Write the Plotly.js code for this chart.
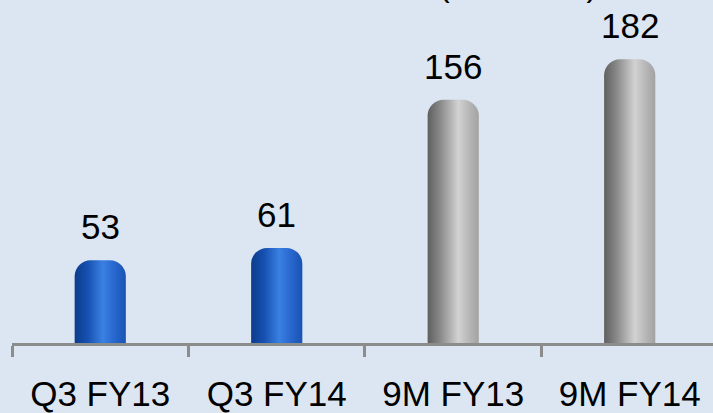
<!DOCTYPE html>
<html><head><meta charset="utf-8">
<script src="https://cdn.plot.ly/plotly-3.0.1.min.js"></script>
<style>html,body{margin:0;padding:0;background:#dce6f2;overflow:hidden}</style>
</head><body><div id="chart" style="width:713px;height:413px"></div>
<script>
const categories = ['Q3 FY13', 'Q3 FY14', '9M FY13', '9M FY14'];
const values = [53, 61, 156, 182];
const barGroups = ['quarter', 'quarter', 'nine', 'nine'];
const titleText = '(Rs. Crore)';

const groupColor = {quarter: '#1f5fc4', nine: '#a8a8a8'};
const groupGrad = {quarter: 'gBlue', nine: 'gGray'};
const FONT = 'Liberation Sans, Arial, sans-serif';

const trace = {
  type: 'bar',
  x: categories,
  y: values,
  width: 0.29,
  marker: {color: barGroups.map(g => groupColor[g]), cornerradius: 16, line: {width: 0}},
  hoverinfo: 'skip'
};

const annotations = values.map((v, i) => ({
  x: categories[i], y: v, xref: 'x', yref: 'y', text: String(v),
  showarrow: false, yanchor: 'bottom', yshift: 12,
  font: {family: FONT, size: 35, color: '#000'}
}));
annotations.push({
  xref: 'paper', yref: 'paper', x: 0.722, y: 1, xanchor: 'center', yanchor: 'bottom', yshift: -5,
  text: titleText, showarrow: false,
  font: {family: FONT, size: 32, color: '#000'}
});

const layout = {
  width: 713, height: 413,
  paper_bgcolor: '#dce6f2', plot_bgcolor: '#dce6f2',
  margin: {l: 12, r: 0, t: 0, b: 70, pad: 0},
  showlegend: false,
  xaxis: {
    type: 'category', range: [-0.5, 3.472], tickson: 'boundaries',
    ticks: 'outside', ticklen: 11, tickwidth: 3, tickcolor: '#8c8c8c',
    showline: true, linecolor: '#8c8c8c', linewidth: 3,
    showgrid: false, zeroline: false, ticklabelstandoff: 18,
    tickfont: {family: FONT, size: 35, color: '#000'}, fixedrange: true
  },
  yaxis: {range: [0, 220], visible: false, fixedrange: true},
  annotations: annotations
};

Plotly.newPlot('chart', [trace], layout, {staticPlot: true}).then(gd => {
  const svg = gd.querySelector('svg.main-svg');
  const ns = 'http://www.w3.org/2000/svg';
  let defs = svg.querySelector('defs');
  if (!defs) { defs = document.createElementNS(ns, 'defs'); svg.insertBefore(defs, svg.firstChild); }
  const mk = (id, stops) => {
    const g = document.createElementNS(ns, 'linearGradient');
    g.setAttribute('id', id); g.setAttribute('x1', '0'); g.setAttribute('x2', '1');
    g.setAttribute('y1', '0'); g.setAttribute('y2', '0');
    stops.forEach(([o, c]) => {
      const s = document.createElementNS(ns, 'stop');
      s.setAttribute('offset', o); s.setAttribute('stop-color', c); g.appendChild(s);
    });
    defs.appendChild(g);
  };
  mk('gBlue', [[0, '#0c3c8c'], [0.25, '#1650b0'], [0.55, '#3a80e2'], [0.75, '#2a6ad0'], [1, '#1852b4']]);
  mk('gGray', [[0, '#5f5f5f'], [0.25, '#8a8a8a'], [0.6, '#d2d2d2'], [0.8, '#b8b8b8'], [1, '#a2a2a2']]);
  gd.querySelectorAll('.barlayer .point path').forEach((p, i) => {
    p.style.fill = 'url(#' + groupGrad[barGroups[i]] + ')';
  });
});
</script></body></html>
